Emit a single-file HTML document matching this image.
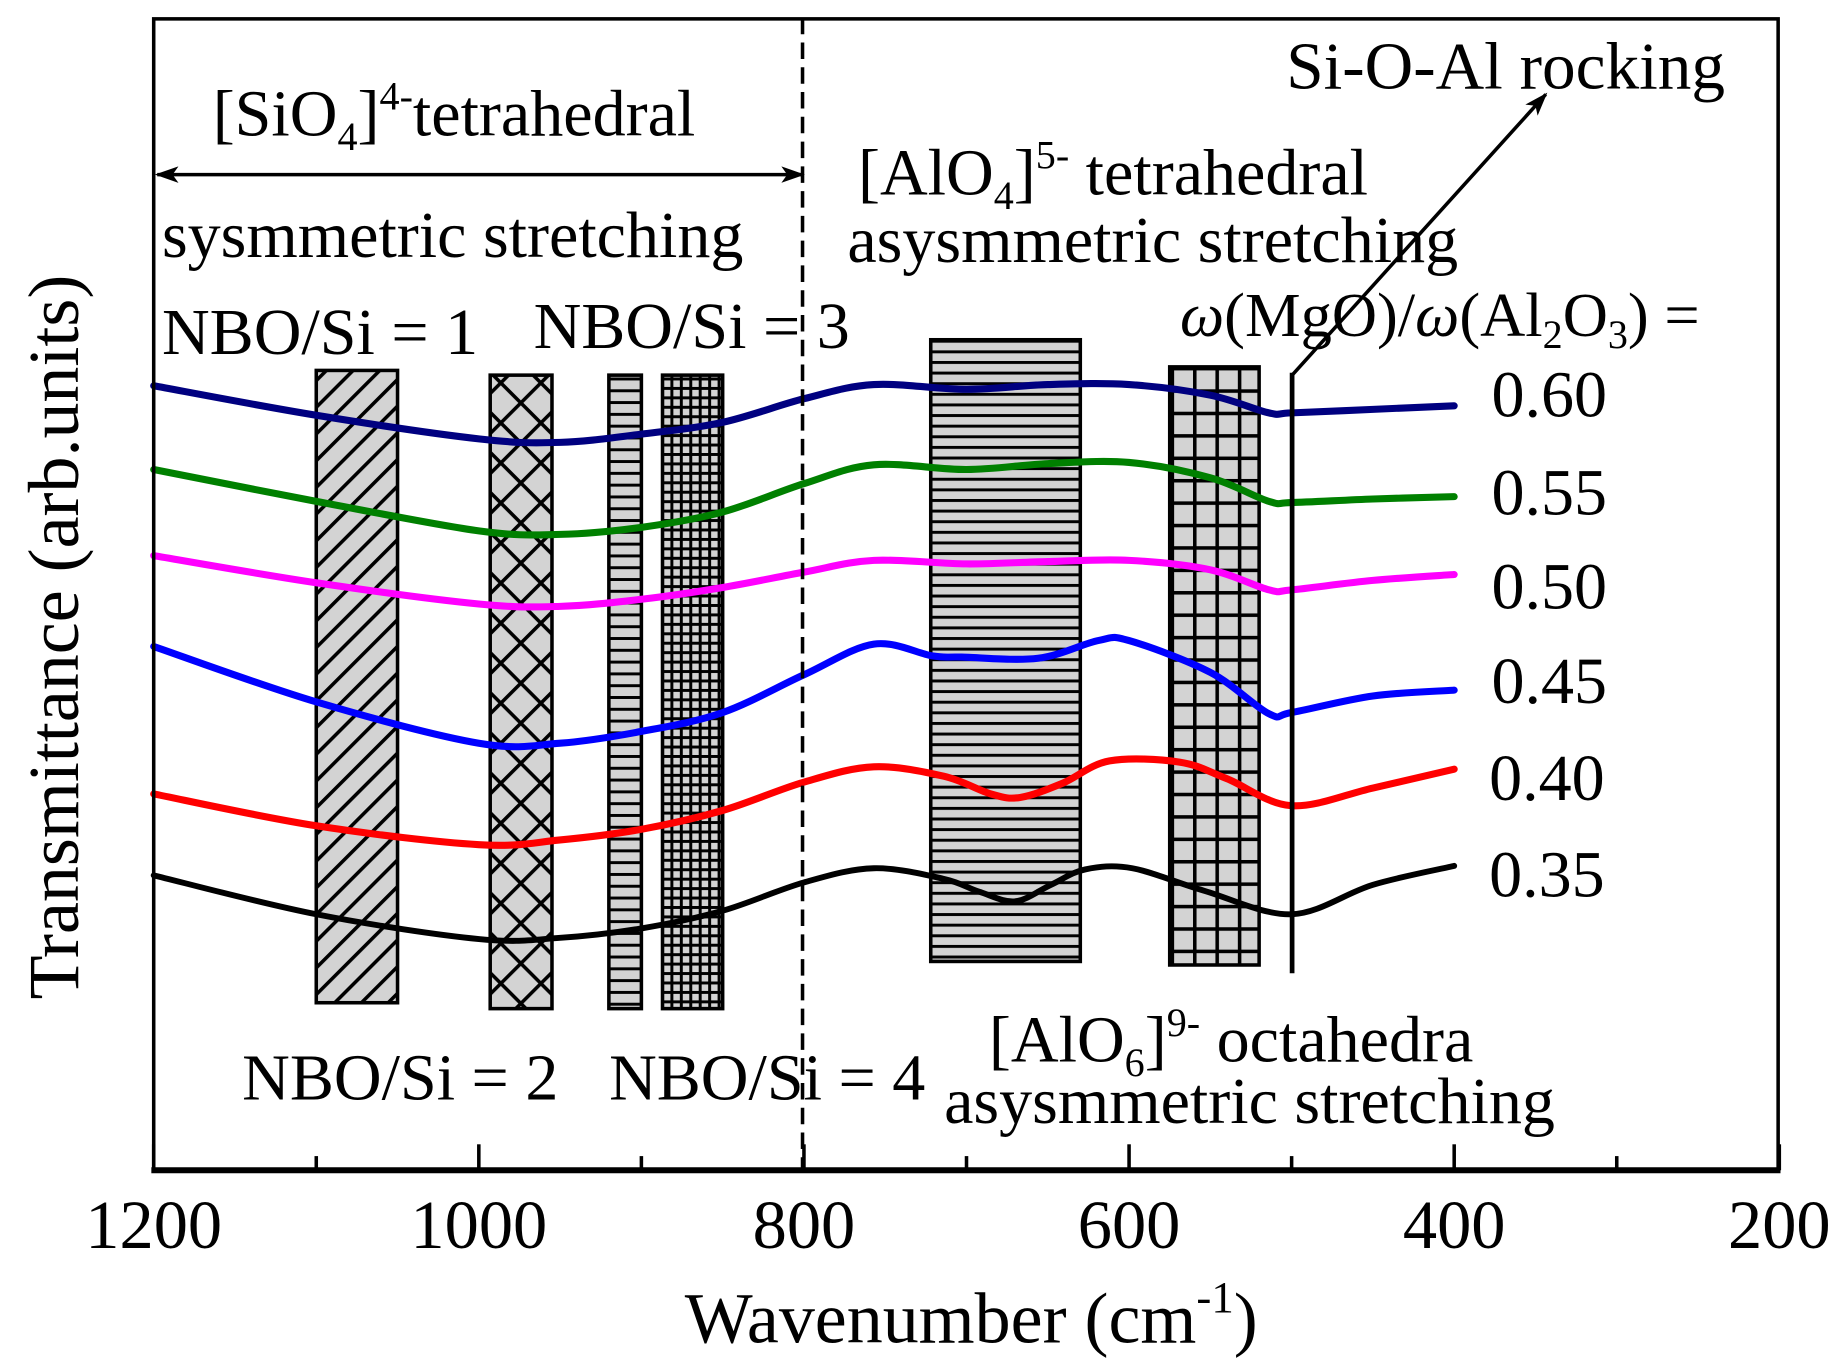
<!DOCTYPE html>
<html><head><meta charset="utf-8"><style>
html,body{margin:0;padding:0;background:#fff;}
svg{display:block;}
text{font-family:"Liberation Serif",serif;fill:#000;}
</style></head><body>
<svg id="chart" width="1841" height="1359" viewBox="0 0 1560 1152" xmlns="http://www.w3.org/2000/svg">
<defs>
<pattern id="pDiag" width="16" height="16" patternUnits="userSpaceOnUse" patternTransform="rotate(45)"><rect width="16" height="16" fill="#d3d3d3"/><rect width="3" height="16" fill="#000"/></pattern>
<pattern id="pCross" width="24" height="24" patternUnits="userSpaceOnUse" patternTransform="rotate(45)"><rect width="24" height="24" fill="#d3d3d3"/><rect width="3" height="24" fill="#000"/><rect width="24" height="3" fill="#000"/></pattern>
<pattern id="pHor" width="10" height="10" patternUnits="userSpaceOnUse"><rect width="10" height="10" fill="#d3d3d3"/><rect width="10" height="2.5" fill="#000"/></pattern>
<pattern id="pFine" width="8" height="8" patternUnits="userSpaceOnUse"><rect width="8" height="8" fill="#d3d3d3"/><rect width="2.5" height="8" fill="#000"/><rect width="8" height="2.5" fill="#000"/></pattern>
<pattern id="pHor2" width="9" height="9" patternUnits="userSpaceOnUse"><rect width="9" height="9" fill="#d3d3d3"/><rect width="9" height="2.5" fill="#000"/></pattern>
<pattern id="pGrid" width="19" height="19" patternUnits="userSpaceOnUse" x="992" y="311"><rect width="19" height="19" fill="#d3d3d3"/><rect width="3" height="19" fill="#000"/><rect width="19" height="3" fill="#000"/></pattern>
<marker id="ah2" markerWidth="20" markerHeight="14" refX="18" refY="7" orient="auto-start-reverse" markerUnits="userSpaceOnUse"><path d="M0,0 L20,7 L0,14 L5,7 Z" fill="#000"/></marker>
</defs>
<g id="bands"></g>
<g id="curves"></g>
<line x1="680" y1="15" x2="680" y2="992" stroke="#000" stroke-width="3" stroke-dasharray="14 7"/>
<line x1="1095" y1="316" x2="1095" y2="825" stroke="#000" stroke-width="4"/>
<line x1="1095" y1="318" x2="1310" y2="80" stroke="#000" stroke-width="3" marker-end="url(#ah2)"/>
<line x1="133" y1="148" x2="680" y2="148" stroke="#000" stroke-width="3" marker-end="url(#ah2)" marker-start="url(#ah2)"/>
<rect x="130" y="16" width="1377" height="976" fill="none" stroke="#000" stroke-width="3"/>
<line x1="128" y1="992" x2="1509" y2="992" stroke="#000" stroke-width="5"/>
<g id="ticks"></g>
<text x="180" y="115" font-size="56">[SiO<tspan font-size="34" dy="12">4</tspan><tspan dy="-12">]</tspan><tspan font-size="34" dy="-22">4-</tspan><tspan dy="22">tetrahedral</tspan></text>
<text x="137" y="218" font-size="56">sysmmetric stretching</text>
<text x="137" y="300" font-size="56">NBO/Si = 1</text>
<text x="452" y="295" font-size="56">NBO/Si = 3</text>
<text x="1090" y="75" font-size="57">Si-O-Al rocking</text>
<text x="727" y="165" font-size="56">[AlO<tspan font-size="34" dy="12">4</tspan><tspan dy="-12">]</tspan><tspan font-size="34" dy="-22">5-</tspan><tspan dy="22"> tetrahedral</tspan></text>
<text x="718" y="222" font-size="56">asysmmetric stretching</text>
<text x="1000" y="285" font-size="53"><tspan font-style="italic">ω</tspan>(MgO)/<tspan font-style="italic">ω</tspan>(Al<tspan font-size="34" dy="10">2</tspan><tspan dy="-10">O</tspan><tspan font-size="34" dy="10">3</tspan><tspan dy="-10">) =</tspan></text>
<text x="205" y="932" font-size="56">NBO/Si = 2</text>
<text x="516" y="932" font-size="56">NBO/Si = 4</text>
<text x="838" y="900" font-size="56">[AlO<tspan font-size="34" dy="12">6</tspan><tspan dy="-12">]</tspan><tspan font-size="34" dy="-22">9-</tspan><tspan dy="22"> octahedra</tspan></text>
<text x="800" y="952" font-size="56">asysmmetric stretching</text>
<text x="1264" y="353" font-size="56">0.60</text>
<text x="1264" y="436" font-size="56">0.55</text>
<text x="1264" y="516" font-size="56">0.50</text>
<text x="1264" y="596" font-size="56">0.45</text>
<text x="1262" y="678" font-size="56">0.40</text>
<text x="1262" y="760" font-size="56">0.35</text>
<text x="823" y="1138" font-size="61" text-anchor="middle">Wavenumber (cm<tspan font-size="38" dy="-26">-1</tspan><tspan dy="26">)</tspan></text>
<text transform="translate(66,540) rotate(-90)" font-size="61" text-anchor="middle">Transmittance (arb.units)</text>
</svg>
<script>
const xTicks = [1200, 1000, 800, 600, 400, 200];
const xMinorTicks = [1100, 900, 700, 500, 300];
const ratioLabels = ["0.60", "0.55", "0.50", "0.45", "0.40", "0.35"];
const seriesColors = ["#000080", "#008000", "#ff00ff", "#0000ff", "#ff0000", "#000000"];
const wn060 = [1200,1100,1000,950,900,850,800,757,700,650,600,550,514,500,450,400];
const v060 = [665,640,620,617,624,634,654,666,662,666,666,657,642,642,645,648];
const wn055 = [1200,1100,1000,950,900,850,800,757,700,650,600,550,514,500,450,400];
const v055 = [594,567,542,539,545,558,582,598,594,599,600,587,567,566,569,571];
const wn050 = [1200,1100,1000,950,900,850,800,757,700,650,600,550,514,500,450,400];
const v050 = [521,498,480,478,484,494,507,517,514,516,517,509,492,492,500,505];
const wn045 = [1200,1100,1000,950,900,850,800,757,721,703,656,619,600,550,514,500,450,400];
const v045 = [444,397,362,362,372,388,420,446,436,435,434,449,449,422,387,388,402,407];
const wn040 = [1200,1100,1000,950,900,850,800,757,714,685,667,641,612,569,540,500,450,400];
const v040 = [319,292,276,280,289,305,329,342,334,319,316,328,347,346,332,309,324,340];
const wn035 = [1200,1100,1000,950,900,850,800,757,714,692,670,648,627,598,554,500,450,400];
const v035 = [250,217,196,197,205,220,244,256,247,236,228,242,255,256,237,217,242,258];
const seriesWn = [wn060, wn055, wn050, wn045, wn040, wn035];
const seriesV = [v060, v055, v050, v045, v040, v035];
const bandLo = [1050, 955, 900, 850, 630, 520];
const bandHi = [1100, 993, 920, 887, 722, 575];
const bandTopV = [678, 674, 674, 674, 704, 681];
const bandBotV = [142, 137, 137, 137, 177, 174];
const bandFills = ["url(#pDiag)", "url(#pCross)", "url(#pHor)", "url(#pFine)", "url(#pHor2)", "url(#pGrid)"];

const X0 = 130, X1 = 1508, Y0 = 992;
function xs(w){ return X0 + (1200 - w) * (X1 - X0) / 1000; }
function ys(v){ return Y0 - v; }
const NS = "http://www.w3.org/2000/svg";

const bands = document.getElementById('bands');
bandLo.forEach((lo, i) => {
  const r = document.createElementNS(NS, 'rect');
  
  
  r.setAttribute('x', xs(bandHi[i]));
  r.setAttribute('width', xs(lo) - xs(bandHi[i]));
  r.setAttribute('y', ys(bandTopV[i]));
  r.setAttribute('height', bandTopV[i] - bandBotV[i]);
  r.setAttribute('fill', bandFills[i]);
  r.setAttribute('stroke', '#000');
  r.setAttribute('stroke-width', '3');
  bands.appendChild(r);
});

function smooth(pts){
  let d = "M" + pts[0][0] + "," + pts[0][1];
  for (let i = 0; i < pts.length - 1; i++) {
    const p0 = pts[Math.max(i-1,0)], p1 = pts[i], p2 = pts[i+1], p3 = pts[Math.min(i+2,pts.length-1)];
    const c1x = p1[0] + (p2[0]-p0[0])/6, c1y = p1[1] + (p2[1]-p0[1])/6;
    const c2x = p2[0] - (p3[0]-p1[0])/6, c2y = p2[1] - (p3[1]-p1[1])/6;
    d += " C" + c1x + "," + c1y + " " + c2x + "," + c2y + " " + p2[0] + "," + p2[1];
  }
  return d;
}
const curves = document.getElementById('curves');
seriesWn.forEach((wns, i) => {
  const pts = wns.map((w, j) => [xs(w), ys(seriesV[i][j])]);
  const p = document.createElementNS(NS, 'path');
  
  
  p.setAttribute('d', smooth(pts));
  p.setAttribute('fill', 'none');
  p.setAttribute('stroke', seriesColors[i]);
  p.setAttribute('stroke-width', i === 5 ? '5' : '6');
  p.setAttribute('stroke-linecap', 'round');
  curves.appendChild(p);
});

const ticks = document.getElementById('ticks');
xTicks.forEach(w => {
  const l = document.createElementNS(NS, 'line');
  
  
  l.setAttribute('x1', xs(w)); l.setAttribute('x2', xs(w));
  l.setAttribute('y1', Y0); l.setAttribute('y2', Y0 - 22);
  l.setAttribute('stroke', '#000'); l.setAttribute('stroke-width', '3');
  ticks.appendChild(l);
  const t = document.createElementNS(NS, 'text');
  
  
  t.setAttribute('x', xs(w)); t.setAttribute('y', 1058);
  t.setAttribute('font-size', '58');
  t.setAttribute('text-anchor', 'middle');
  t.textContent = w;
  ticks.appendChild(t);
});
xMinorTicks.forEach(w => {
  const l = document.createElementNS(NS, 'line');
  
  
  l.setAttribute('x1', xs(w)); l.setAttribute('x2', xs(w));
  l.setAttribute('y1', Y0); l.setAttribute('y2', Y0 - 12);
  l.setAttribute('stroke', '#000'); l.setAttribute('stroke-width', '3');
  ticks.appendChild(l);
});
</script>
</body></html>
